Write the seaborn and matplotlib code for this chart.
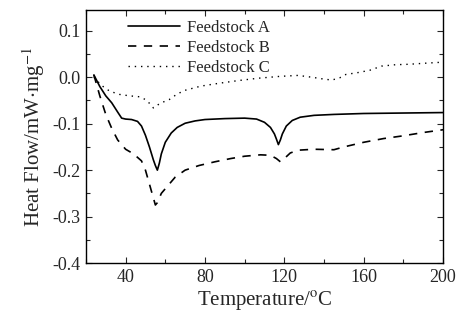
import pandas as pd
import seaborn as sns
import matplotlib.pyplot as plt
from matplotlib.ticker import MultipleLocator


# DSC curves
temp_a = [24, 27, 30, 33, 36, 38, 40, 43, 46, 48, 50, 52, 54, 55, 56, 57, 58, 60, 63, 66, 70, 75,
          80, 90, 100, 106, 110, 113, 115, 116, 117, 118, 119, 121, 124, 128, 135, 145, 160, 180, 200]
flow_a = [0.005, -0.02, -0.04, -0.055, -0.075, -0.088, -0.09, -0.091, -0.095, -0.105, -0.125, -0.15,
          -0.178, -0.19, -0.2, -0.185, -0.165, -0.14, -0.12, -0.108, -0.099, -0.094,
          -0.091, -0.089, -0.088, -0.09, -0.097, -0.108, -0.122, -0.133, -0.145, -0.135, -0.122,
          -0.105, -0.093, -0.086, -0.082, -0.08, -0.078, -0.077, -0.076]

temp_b = [24, 27, 30, 33, 36, 40, 44, 48, 50, 52, 54, 55, 56, 58, 61, 65, 70, 77, 85, 93, 100, 108,
          113, 116, 118, 120, 123, 127, 135, 145, 150, 160, 170, 180, 190, 200]
flow_b = [0.005, -0.04, -0.08, -0.11, -0.135, -0.155, -0.165, -0.18, -0.2, -0.23, -0.26, -0.275,
          -0.27, -0.25, -0.235, -0.215, -0.2, -0.19, -0.182, -0.175, -0.17, -0.167,
          -0.168, -0.175, -0.182, -0.175, -0.163, -0.157, -0.155, -0.156, -0.15, -0.14, -0.132,
          -0.126, -0.119, -0.113]

temp_c = [24, 28, 32, 37, 42, 47, 50, 52, 54, 56, 58, 62, 66, 70, 78, 87, 97, 107, 118, 127, 134,
          140, 144, 148, 151, 157, 163, 169, 176, 183, 190, 198, 200]
flow_c = [0.0, -0.018, -0.03, -0.037, -0.04, -0.042, -0.048, -0.056, -0.066, -0.06, -0.055, -0.048,
          -0.036, -0.028, -0.019, -0.013, -0.007, -0.002, 0.002, 0.004, 0.0,
          -0.004, -0.006, -0.001, 0.006, 0.01, 0.015, 0.024, 0.027, 0.028, 0.03, 0.032, 0.032]

series_names = ["Feedstock A", "Feedstock B", "Feedstock C"]


def build_frame():
    parts = []
    for name, t, f in zip(series_names, [temp_a, temp_b, temp_c], [flow_a, flow_b, flow_c]):
        parts.append(pd.DataFrame({"Temperature": t, "Flow": f, "Sample": name}))
    return pd.concat(parts, ignore_index=True)


def main():
    sns.set_style("ticks")
    plt.rcParams["font.family"] = ["Liberation Serif", "DejaVu Serif"]
    plt.rcParams["mathtext.fontset"] = "stix"
    plt.rcParams["xtick.direction"] = "in"
    plt.rcParams["ytick.direction"] = "in"

    df = build_frame()

    fig = plt.figure(figsize=(4.62, 3.2), dpi=100)
    ax = fig.add_axes([0.186, 0.178, 0.773, 0.791])

    styles = {"Feedstock A": "-", "Feedstock B": (0, (5, 4.5)), "Feedstock C": (0, (1, 3.5))}
    widths = {"Feedstock A": 1.2, "Feedstock B": 1.2, "Feedstock C": 1.0}
    for name in series_names:
        sns.lineplot(data=df[df["Sample"] == name], x="Temperature", y="Flow",
                     color="black", linewidth=widths[name], linestyle=styles[name],
                     label=name, ax=ax, sort=False)

    ax.set_xlim(20, 200)
    ax.set_ylim(-0.4, 0.145)
    ax.xaxis.set_major_locator(MultipleLocator(40))
    ax.xaxis.set_minor_locator(MultipleLocator(20))
    ax.yaxis.set_minor_locator(MultipleLocator(0.05))
    ax.set_yticks([0.1, 0.0, -0.1, -0.2, -0.3, -0.4])
    ax.set_yticklabels(["0.1", "0.0", "-0.1", "-0.2", "-0.3", "-0.4"])
    ax.tick_params(which="both", top=True, right=True, labeltop=False, labelright=False,
                   labelsize=13, width=0.8, pad=4)
    ax.tick_params(which="major", length=4)
    ax.tick_params(which="minor", length=3)
    for spine in ax.spines.values():
        spine.set_linewidth(1.0)
        spine.set_color("black")

    ax.set_xlabel("Temperature/$^{\\mathrm{o}}$C", fontsize=15, labelpad=3)
    ax.set_ylabel("Heat Flow/mW$\\cdot$mg$^{-1}$", fontsize=15, labelpad=4)

    ax.legend(loc="upper left", bbox_to_anchor=(0.09, 1.0), frameon=False, fontsize=12,
              handlelength=3.1, labelspacing=0.24, handletextpad=0.45,
              borderaxespad=0.4, borderpad=0.2)

    fig.savefig("out.png", dpi=100)
    plt.close(fig)


if __name__ == "__main__":
    main()
